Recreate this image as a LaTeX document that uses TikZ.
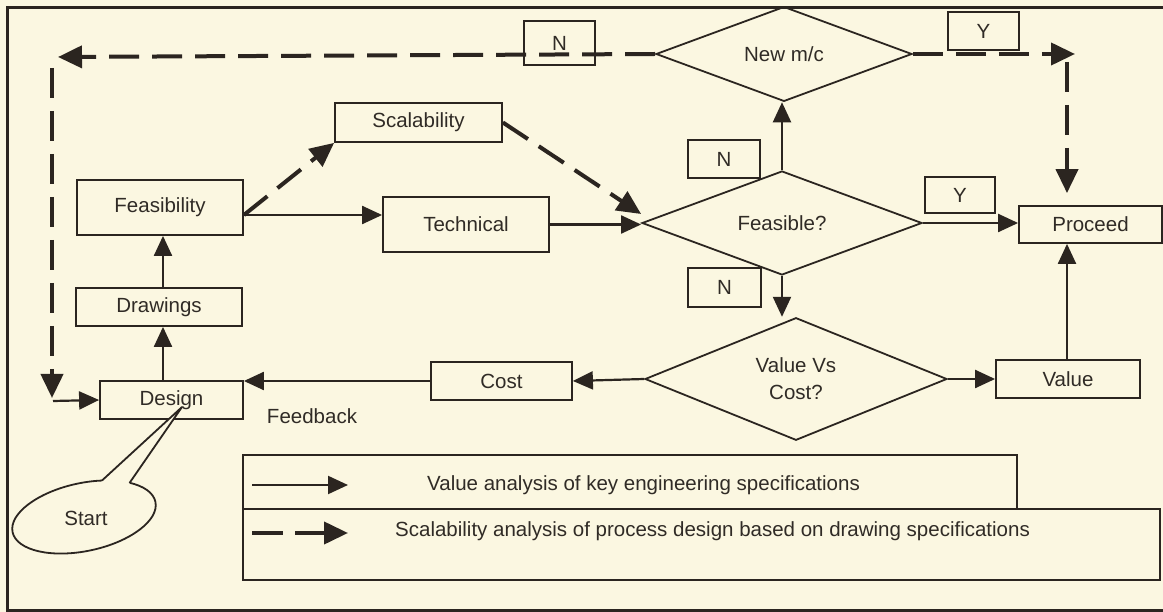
\documentclass[tikz,border=0pt]{standalone}
\usepackage{fontspec}
\setmainfont{Liberation Sans}
\usetikzlibrary{arrows.meta,shapes.geometric}
\definecolor{bg}{RGB}{251,247,225}
\definecolor{ink}{RGB}{43,37,32}
\definecolor{txt}{RGB}{48,43,38}
\begin{document}
\begin{tikzpicture}[x=1pt,y=-1pt,
  every node/.style={text=txt,font=\fontsize{20.5}{27}\selectfont},
  box/.style={draw=ink,line width=1.8pt,rectangle,inner sep=0pt},
  dia/.style={draw=ink,line width=1.8pt,diamond,inner sep=0pt},
  sol/.style={draw=ink,line width=2.2pt,-{Triangle[length=20pt,width=18pt]}},
  dsh/.style={draw=ink,line width=4pt,dash pattern=on 30pt off 13pt,-{Triangle[length=24pt,width=22pt]}},
  plain/.style={inner sep=0pt}
]
\fill[bg] (0,0) rectangle (1163,612);
\useasboundingbox (0,0) rectangle (1163,612);
\draw[ink,line width=3pt] (1163,8) -- (7,8) -- (7,610) -- (1163,610);

% boxes
\node[box,minimum width=166pt,minimum height=55pt] (feas) at (160,207.5) {Feasibility};
\node[box,minimum width=166pt,minimum height=38pt] (draw) at (159,307) {Drawings};
\node[box,minimum width=143pt,minimum height=38pt] (design) at (171.5,400) {Design};
\node[box,minimum width=167pt,minimum height=39pt] (scal) at (418.5,122.5) {Scalability};
\node[box,minimum width=166pt,minimum height=55pt] (tech) at (466,224.5) {Technical};
\node[box,minimum width=141pt,minimum height=38pt] (cost) at (501.5,381) {Cost};
\node[box,minimum width=144pt,minimum height=38pt] (value) at (1068,379) {Value};
\node[box,minimum width=143pt,minimum height=37pt] (proceed) at (1090.5,224.5) {Proceed};

% diamonds
\node[dia,minimum width=256pt,minimum height=94pt] (nmc) at (784,54) {New m/c};
\node[dia,minimum width=280pt,minimum height=90pt] (fq) at (782,223) {Feasible?};
\node[dia,minimum width=302pt,minimum height=108pt,align=center] (vvc) at (796,379) {Value Vs\\Cost?};

% Y / N labels
\node[box,minimum width=71pt,minimum height=44pt] (n1) at (559.5,43) {N};
\node[box,minimum width=72pt,minimum height=38pt] (n2) at (724,159) {N};
\node[box,minimum width=73pt,minimum height=39pt] (n3) at (724.5,287.5) {N};
\node[box,minimum width=71pt,minimum height=38pt] (y1) at (983.5,31) {Y};
\node[box,minimum width=70pt,minimum height=36pt] (y2) at (960,195) {Y};

\node[plain] (fb) at (312,416) {Feedback};

% start callout
\node[plain] (start) at (86,518) {Start};
\draw[ink,line width=1.8pt,rotate around={12:(84,517)}] (84,517) ellipse [x radius=73, y radius=34];
\coordinate (tailp) at (182,407);
\fill[bg] (102,480.5) -- (tailp) -- (129.5,483) -- (129.5,492) -- (102,492) -- cycle;
\draw[ink,line width=1.8pt,line join=round] (102,480.5) -- (tailp) -- (129.5,483);

% free-end coordinates
\coordinate (tl) at (58,57);
\coordinate (ltop) at (52,68);
\coordinate (lbot) at (52,398);
\coordinate (lcorner) at (53,401);
\coordinate (tr) at (1075,54);
\coordinate (trtop) at (1067,62);

% dashed connectors
\draw[dsh] (nmc.west) -- (tl);
\draw[dsh] (ltop) -- (lbot);
\draw[sol] (lcorner) -- (design.west);
\draw[dsh] (nmc.east) -- (tr);
\draw[dsh,shorten >=12pt] (trtop) -- (trtop |- proceed.north);
\draw[dsh] ([yshift=-7.5pt]feas.east) -- (scal.south west);
\draw[dsh] (scal.east) -- ([yshift=9pt]fq.west);

% solid connectors
\draw[sol] ([yshift=-7.5pt]feas.east) -- ([yshift=-7.5pt]feas.east -| tech.west);
\draw[sol] (tech.east) -- (tech.east -| fq.west);
\draw[sol] (fq.north) -- (fq.north |- nmc.south);
\draw[sol] (fq.east) -- (fq.east -| proceed.west);
\draw[sol] (fq.south) -- (fq.south |- vvc.north);
\draw[sol] (vvc.west) -- (cost.east);
\draw[sol] (cost.west) -- (cost.west -| design.east);
\draw[sol] (vvc.east) -- (value.west);
\draw[sol] (value.north -| 1067,0) -- (1067,0 |- proceed.south);
\draw[sol] ([xshift=-8.5pt]design.north) -- ([xshift=-8.5pt]design.north |- draw.south);
\draw[sol] ([xshift=4pt]draw.north) -- ([xshift=4pt]draw.north |- feas.south);

% legend
\node[box,minimum width=774pt,minimum height=54pt] (leg1) at (630,482) {};
\node[box,minimum width=917pt,minimum height=71pt] (leg2) at (701.5,544.5) {};
\node[plain,anchor=west] (lt1) at (427,485) {Value analysis of key engineering specifications};
\node[plain,anchor=west] (lt2) at (395,531) {Scalability analysis of process design based on drawing specifications};
\coordinate (la1) at (252,485);
\coordinate (la2) at (348,485);
\coordinate (lb1) at (252,533);
\coordinate (lb2) at (348,533);
\draw[sol] (la1) -- (la2);
\draw[dsh,dash pattern=on 31pt off 12pt] (lb1) -- (lb2);
\end{tikzpicture}
\end{document}
